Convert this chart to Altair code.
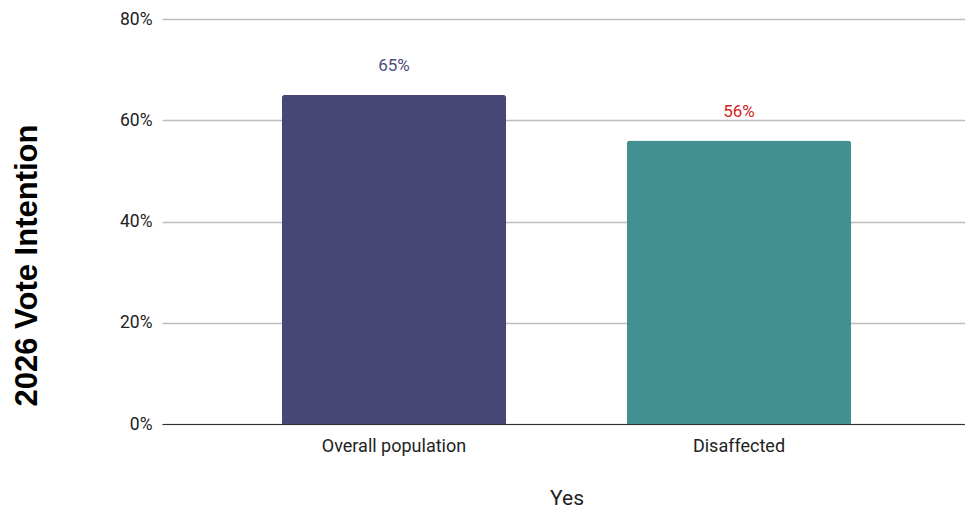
import altair as alt
import pandas as pd

categories = ["Overall population", "Disaffected"]
values = [65, 56]
bar_colors = ["#474675", "#42908f"]
label_colors = ["#4d4c7c", "#d32323"]

df = pd.DataFrame({"group": categories, "value": values,
                   "label": [f"{v}%" for v in values]})

x = alt.X("group:N", sort=categories,
          scale=alt.Scale(paddingInner=0.35, paddingOuter=0.3475),
          axis=alt.Axis(title="Yes", labelAngle=0, labelFont="Roboto", labelFontSize=18,
                        labelColor="#222222", labelPadding=13, ticks=False, domain=True,
                        domainColor="#333333", domainWidth=1.2,
                        titleFont="Roboto", titleFontSize=21, titleFontWeight="normal",
                        titleColor="#222222", titleY=74, titleBaseline="middle"))
y = alt.Y("value:Q", scale=alt.Scale(domain=[0, 80], nice=False),
          axis=alt.Axis(title="2026 Vote Intention", values=[0, 20, 40, 60, 80],
                        labelExpr="datum.value + '%'", labelFont="Roboto", labelFontSize=17.5,
                        labelColor="#222222", labelPadding=10, ticks=False, domain=False,
                        grid=True, gridColor="#bdbdbd", gridWidth=1.3,
                        titleFont="Liberation Sans", titleFontSize=31, titleFontWeight="bold",
                        titleColor="#000000", titleAngle=-90, titleX=-135, titleY=246,
                        titleAlign="center", titleBaseline="middle"))

base = alt.Chart(df)
bars = base.mark_bar(cornerRadiusTopLeft=3, cornerRadiusTopRight=3).encode(
    x=x, y=y,
    color=alt.Color("group:N", sort=categories,
                    scale=alt.Scale(domain=categories, range=bar_colors), legend=None))
halo = base.mark_text(dy=-29, font="Roboto", fontSize=17, stroke="white", strokeWidth=4,
                      strokeJoin="round", fill="white").encode(
    x=alt.X("group:N", sort=categories), y="value:Q", text="label:N")
labels = base.mark_text(dy=-29, font="Roboto", fontSize=17).encode(
    x=alt.X("group:N", sort=categories), y="value:Q", text="label:N",
    color=alt.Color("label:N", scale=alt.Scale(domain=df["label"].tolist(), range=label_colors),
                    legend=None))

chart = alt.layer(bars, halo, labels).resolve_scale(color="independent").properties(
    width=809, height=405,
    padding={"left": 162, "top": 19, "right": -6, "bottom": 85},
    autosize=alt.AutoSizeParams(type="none"),
    background="white",
).configure_view(stroke=None)

chart.save("out.html", embed_options={"renderer": "svg", "actions": False})
